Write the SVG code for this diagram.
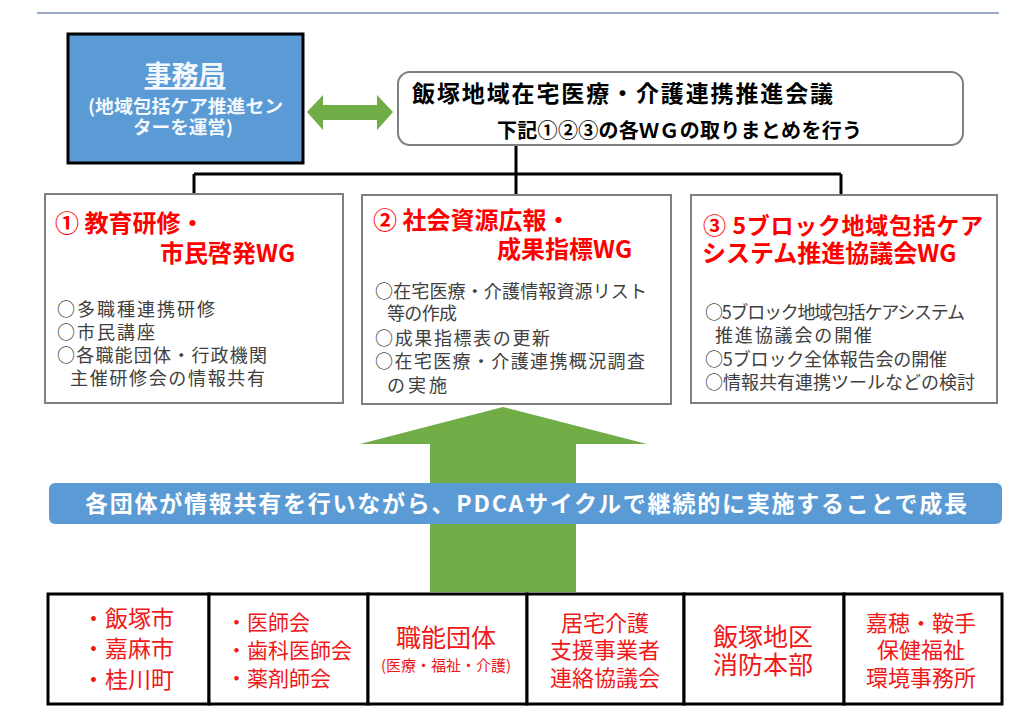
<svg xmlns="http://www.w3.org/2000/svg" width="1031" height="709" viewBox="0 0 1031 709">
<defs>
<style>
.jp{font-family:"Noto Sans CJK JP","Noto Sans",sans-serif}
.wg{fill:#ffffff;stroke:#7f7f7f;stroke-width:2}
.ttl{font-family:"Noto Sans CJK JP",sans-serif;font-weight:bold;font-size:24px;fill:#ff0000}
.body{font-family:"Noto Sans CJK JP",sans-serif;font-size:18px;fill:#404040}
.cell{fill:#ffffff;stroke:#000000;stroke-width:3}
.red{font-family:"Noto Sans CJK JP",sans-serif;fill:#f01818;text-anchor:middle}
.conn{fill:none;stroke:#000000;stroke-width:3}
</style>
</defs>
<rect x="0" y="0" width="1031" height="709" fill="#ffffff"/>
<line x1="37" y1="13" x2="999" y2="13" stroke="#9aa9c6" stroke-width="2"/>

<g id="connectors">
<path class="conn" d="M516 145 V195 M194 174 H841 M194 174 V195 M841 174 V195"/>
<polygon id="double-arrow" points="307,112 323,95 323,105 377,105 377,95 393,112 377,130 377,120 323,120 323,130" fill="#70ad47"/>
</g>

<g id="secretariat">
<rect x="68" y="34" width="235" height="129" fill="#5b9bd5" stroke="#000000" stroke-width="3"/>
<text class="jp" x="185" y="85" font-size="27" font-weight="bold" fill="#f4f8fc" text-anchor="middle" text-decoration="underline">事務局</text>
<text class="jp" x="88" y="113" font-size="18" font-weight="bold" fill="#f4f8fc" textLength="195" lengthAdjust="spacingAndGlyphs">(地域包括ケア推進セン</text>
<text class="jp" x="133" y="134" font-size="18" font-weight="bold" fill="#f4f8fc" textLength="100" lengthAdjust="spacingAndGlyphs">ターを運営)</text>
</g>

<g id="meeting">
<rect x="398" y="72" width="565" height="73" rx="12" fill="#ffffff" stroke="#7f7f7f" stroke-width="2"/>
<text class="jp" x="412" y="102" font-size="23" font-weight="bold" fill="#000000" textLength="421" lengthAdjust="spacing">飯塚地域在宅医療・介護連携推進会議</text>
<text class="jp" x="497" y="138" font-size="20" font-weight="bold" fill="#000000" textLength="365" lengthAdjust="spacing">下記①②③の各ＷＧの取りまとめを行う</text>
</g>

<g id="wg1">
<rect class="wg" x="45" y="194" width="298" height="209"/>
<text class="ttl" x="55" y="232">① 教育研修・</text>
<text class="ttl" x="160" y="262">市民啓発WG</text>
<text class="body" x="57" y="316" textLength="158" lengthAdjust="spacing">○多職種連携研修</text>
<text class="body" x="57" y="339" textLength="98" lengthAdjust="spacing">○市民講座</text>
<text class="body" x="57" y="362" textLength="210" lengthAdjust="spacing">○各職能団体・行政機関</text>
<text class="body" x="70" y="385" textLength="195" lengthAdjust="spacing">主催研修会の情報共有</text>
</g>

<g id="wg2">
<rect class="wg" x="362" y="195" width="309" height="209"/>
<text class="ttl" x="373" y="229">② 社会資源広報・</text>
<text class="ttl" x="497" y="258">成果指標WG</text>
<text class="body" x="375" y="298" textLength="272" lengthAdjust="spacing">○在宅医療・介護情報資源リスト</text>
<text class="body" x="387" y="320" textLength="70" lengthAdjust="spacing">等の作成</text>
<text class="body" x="375" y="345" textLength="175" lengthAdjust="spacing">○成果指標表の更新</text>
<text class="body" x="375" y="368" textLength="270" lengthAdjust="spacing">○在宅医療・介護連携概況調査</text>
<text class="body" x="387" y="392" textLength="60" lengthAdjust="spacing">の実施</text>
</g>

<g id="wg3">
<rect class="wg" x="691" y="195" width="306" height="208"/>
<text class="ttl" x="703" y="234" style="font-size:23px" textLength="280" lengthAdjust="spacing">③ 5ブロック地域包括ケア</text>
<text class="ttl" x="702" y="262">システム推進協議会WG</text>
<text class="body" x="705" y="319" textLength="260" lengthAdjust="spacing">○5ブロック地域包括ケアシステム</text>
<text class="body" x="715" y="342" textLength="157" lengthAdjust="spacing">推進協議会の開催</text>
<text class="body" x="705" y="366" textLength="242" lengthAdjust="spacing">○5ブロック全体報告会の開催</text>
<text class="body" x="705" y="389" textLength="270" lengthAdjust="spacing">○情報共有連携ツールなどの検討</text>
</g>

<g id="growth-arrow">
<polygon points="503,407 647,444 576,444 576,592 430,592 430,444 360,444" fill="#70ad47"/>
</g>

<g id="banner">
<rect x="49" y="483" width="953" height="41" rx="6" fill="#5b9bd5"/>
<text class="jp" x="85" y="512" font-size="23" font-weight="bold" fill="#ffffff" textLength="882" lengthAdjust="spacing">各団体が情報共有を行いながら、PDCAサイクルで継続的に実施することで成長</text>
</g>

<g id="table">
<g id="cell1">
<rect class="cell" x="48" y="594" width="161" height="110"/>
<text class="red" x="128" y="627" font-size="23">・飯塚市</text>
<text class="red" x="128" y="657" font-size="23">・嘉麻市</text>
<text class="red" x="128" y="688" font-size="23">・桂川町</text>
</g>
<g id="cell2">
<rect class="cell" x="209" y="594" width="159" height="110"/>
<text class="red" x="226" y="630" font-size="21" style="text-anchor:start">・医師会</text>
<text class="red" x="226" y="658" font-size="21" style="text-anchor:start">・歯科医師会</text>
<text class="red" x="226" y="686" font-size="21" style="text-anchor:start">・薬剤師会</text>
</g>
<g id="cell3">
<rect class="cell" x="368" y="594" width="159" height="110"/>
<text class="red" x="446" y="647" font-size="25">職能団体</text>
<text class="red" x="446" y="671" font-size="15">(医療・福祉・介護)</text>
</g>
<g id="cell4">
<rect class="cell" x="527" y="594" width="157" height="110"/>
<text class="red" x="605" y="631" font-size="22">居宅介護</text>
<text class="red" x="605" y="658" font-size="22">支援事業者</text>
<text class="red" x="605" y="686" font-size="22">連絡協議会</text>
</g>
<g id="cell5">
<rect class="cell" x="684" y="594" width="160" height="110"/>
<text class="red" x="763" y="646" font-size="25">飯塚地区</text>
<text class="red" x="763" y="674" font-size="25">消防本部</text>
</g>
<g id="cell6">
<rect class="cell" x="844" y="594" width="158" height="110"/>
<text class="red" x="921" y="631" font-size="22">嘉穂・鞍手</text>
<text class="red" x="921" y="658" font-size="22">保健福祉</text>
<text class="red" x="921" y="686" font-size="22">環境事務所</text>
</g>
</g>
</svg>
